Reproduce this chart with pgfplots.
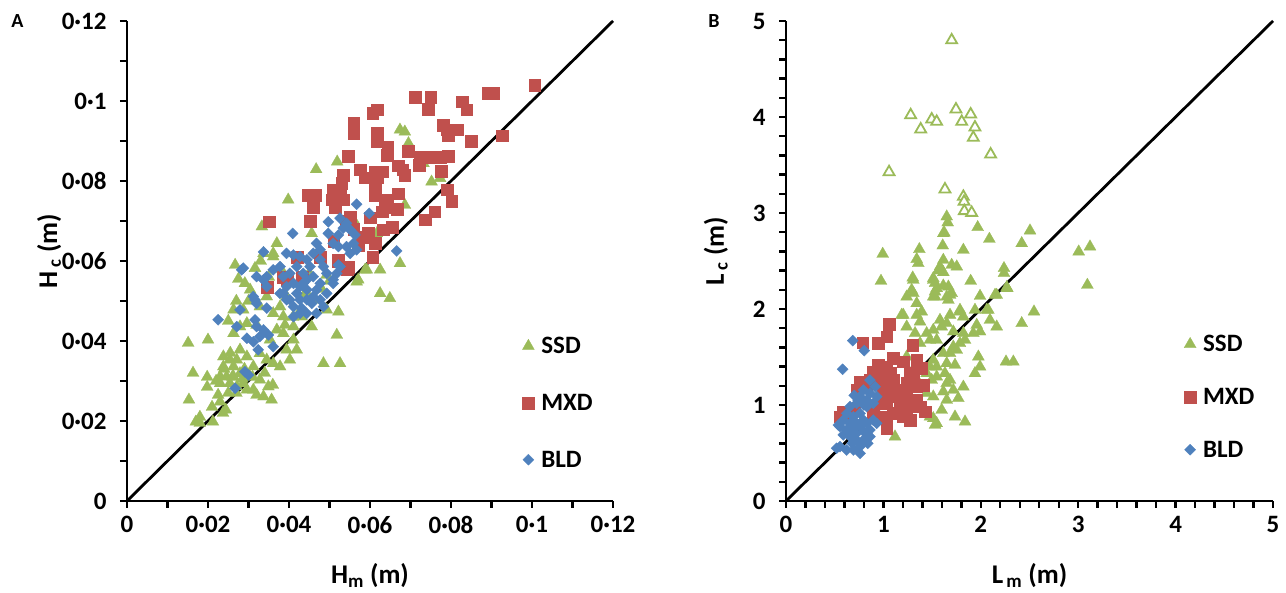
\documentclass[border=0pt]{standalone}
\usepackage{fontspec}
\setmainfont{Carlito}
\usepackage{pgfplots}
\pgfplotsset{compat=1.18}
\definecolor{sgreen}{RGB}{155,187,89}
\definecolor{mred}{RGB}{192,80,77}
\definecolor{bblue}{RGB}{79,129,189}
\pgfplotsset{
  panel/.style={
    scale only axis, width=486pt, height=480pt,
    axis lines=left, axis line style={-, line width=2.8pt},
    tick align=outside, major tick length=7pt, minor tick length=7pt,
    tick style={line width=2.4pt, black},
    ticklabel style={font=\bfseries\fontsize{25}{25}\selectfont},
    yticklabel style={xshift=-10pt},
    xticklabel style={yshift=-5pt},
    label style={font=\bfseries\fontsize{27}{27}\selectfont},
    clip=false,
    legend cell align=left,
    legend image code/.code={\draw[#1,only marks] plot coordinates {(0pt,0pt)};},
    legend style={draw=none, fill=none, anchor=north west, column sep=5pt,
      font=\bfseries\fontsize{25}{25}\selectfont},
  },
  ssd/.style={only marks, mark=triangle*, mark size=6.9pt, mark options={draw=sgreen, fill=sgreen, line width=0.3pt}},
  ssdh/.style={only marks, mark=triangle*, mark size=6.3pt, mark options={draw=sgreen, fill=white, line width=1.8pt}},
  mxd/.style={only marks, mark=square*, mark size=5.8pt, mark options={draw=mred, fill=mred, line width=0.3pt}},
  bld/.style={only marks, mark=square*, mark size=3.9pt, mark options={rotate=45, draw=bblue, fill=bblue, line width=0.3pt}},
}
\begin{document}
\begin{tikzpicture}
\useasboundingbox (0,0) rectangle (1286pt,593pt);
\node[font=\bfseries\fontsize{20}{20}\selectfont] at (17.5pt,571.5pt) {A};
\node[font=\bfseries\fontsize{20}{20}\selectfont] at (714pt,572pt) {B};
% ---------------- Panel A
\begin{axis}[panel, at={(127pt,92pt)}, anchor=south west,
  xmin=0, xmax=0.12, ymin=0, ymax=0.12,
  xtick={0,0.02,0.04,0.06,0.08,0.1,0.12},
  xticklabels={0,0·02,0·04,0·06,0·08,0·1,0·12},
  minor xtick={0.01,0.03,0.05,0.07,0.09,0.11},
  ytick={0,0.02,0.04,0.06,0.08,0.1,0.12},
  yticklabels={0,0·02,0·04,0·06,0·08,0·1,0·12},
  minor ytick={0.01,0.03,0.05,0.07,0.09,0.11},
  xlabel={H\textsubscript{m} (m)}, ylabel={H\,\textsubscript{c} (m)},
  xlabel style={at={(axis description cs:0.5,-0.155)}, anchor=center},
  ylabel style={at={(axis description cs:-0.16,0.52)}, anchor=center},
  legend style={at={(axis description cs:0.807,0.35)}, row sep=35pt},
]
\addplot[ssd] coordinates {
(0.0151,0.0395)(0.0200,0.0403)(0.0163,0.0320)(0.0153,0.0253)(0.0198,0.0310)(0.0198,0.0285)
(0.0180,0.0210)(0.0170,0.0198)(0.0180,0.0195)(0.0210,0.0235)(0.0212,0.0198)(0.0230,0.0248)
(0.0237,0.0220)(0.0244,0.0228)(0.0238,0.0361)(0.0254,0.0353)(0.0271,0.0353)(0.0238,0.0336)
(0.0263,0.0336)(0.0230,0.0311)(0.0246,0.0311)(0.0263,0.0311)(0.0279,0.0319)(0.0230,0.0294)
(0.0254,0.0294)(0.0271,0.0286)(0.0287,0.0294)(0.0296,0.0278)(0.0312,0.0278)(0.0320,0.0265)
(0.0337,0.0261)(0.0357,0.0253)(0.0349,0.0286)(0.0328,0.0303)(0.0304,0.0311)(0.0312,0.0336)
(0.0296,0.0361)(0.0279,0.0378)(0.0328,0.0369)(0.0345,0.0353)(0.0361,0.0344)(0.0378,0.0336)
(0.0394,0.0378)(0.0402,0.0353)(0.0419,0.0378)(0.0411,0.0403)(0.0386,0.0419)(0.0370,0.0428)
(0.0353,0.0403)(0.0337,0.0419)(0.0485,0.0344)(0.0526,0.0344)(0.0522,0.0473)(0.0518,0.0415)
(0.0456,0.0436)(0.0493,0.0478)(0.0567,0.0548)(0.0592,0.0578)(0.0411,0.0436)(0.0431,0.0461)
(0.0386,0.0461)(0.0378,0.0486)(0.0263,0.0419)(0.0279,0.0436)(0.0296,0.0444)(0.0263,0.0478)
(0.0287,0.0478)(0.0267,0.0590)(0.0291,0.0544)(0.0304,0.0528)(0.0316,0.0582)(0.0361,0.0611)
(0.0328,0.0486)(0.0345,0.0511)(0.0361,0.0469)(0.0444,0.0519)(0.0460,0.0503)(0.0477,0.0536)
(0.0493,0.0565)(0.0394,0.0511)(0.0467,0.0829)(0.0519,0.0848)(0.0398,0.0753)(0.0333,0.0686)
(0.0456,0.0669)(0.0370,0.0644)(0.0337,0.0619)(0.0361,0.0619)(0.0559,0.0703)(0.0571,0.0553)
(0.0674,0.0928)(0.0686,0.0923)(0.0695,0.0894)(0.0752,0.0798)(0.0773,0.0807)(0.0732,0.0844)
(0.0686,0.0740)(0.0674,0.0594)(0.0625,0.0578)(0.0625,0.0519)(0.0649,0.0507)(0.0617,0.0669)
(0.0588,0.0578)(0.0275,0.0555)(0.0300,0.0500)(0.0320,0.0440)(0.0270,0.0500)(0.0250,0.0450)
(0.0290,0.0330)(0.0260,0.0310)(0.0240,0.0330)(0.0220,0.0300)(0.0270,0.0270)(0.0310,0.0310)
(0.0340,0.0320)(0.0360,0.0290)(0.0390,0.0440)(0.0410,0.0460)(0.0430,0.0480)(0.0480,0.0530)
(0.0500,0.0550)(0.0530,0.0580)(0.0450,0.0570)(0.0440,0.0520)(0.0350,0.0560)(0.0380,0.0580)
(0.0330,0.0600)(0.0250,0.0270)(0.0285,0.0305)(0.0255,0.0370)(0.0225,0.0265)
};
\addlegendentry{SSD}
\addplot[mxd] coordinates {
(0.1007,0.1040)(0.0891,0.1020)(0.0904,0.1020)(0.0711,0.1010)(0.0750,0.1010)(0.0743,0.0980)
(0.0827,0.0998)(0.0839,0.0978)(0.0617,0.0978)(0.0607,0.0970)(0.0560,0.0945)(0.0560,0.0920)
(0.0617,0.0920)(0.0617,0.0900)(0.0780,0.0940)(0.0790,0.0928)(0.0815,0.0928)(0.0793,0.0915)
(0.0850,0.0900)(0.0926,0.0913)(0.0644,0.0885)(0.0642,0.0865)(0.0694,0.0875)(0.0546,0.0862)
(0.0723,0.0860)(0.0721,0.0840)(0.0748,0.0860)(0.0773,0.0860)(0.0793,0.0862)(0.0669,0.0838)
(0.0681,0.0828)(0.0686,0.0815)(0.0775,0.0825)(0.0575,0.0828)(0.0588,0.0808)(0.0612,0.0823)
(0.0630,0.0823)(0.0617,0.0808)(0.0533,0.0815)(0.0530,0.0795)(0.0509,0.0778)(0.0506,0.0753)
(0.0514,0.0735)(0.0526,0.0770)(0.0533,0.0753)(0.0612,0.0785)(0.0612,0.0765)(0.0642,0.0753)
(0.0637,0.0735)(0.0630,0.0723)(0.0669,0.0768)(0.0667,0.0730)(0.0447,0.0765)(0.0464,0.0765)
(0.0459,0.0735)(0.0452,0.0700)(0.0790,0.0778)(0.0802,0.0750)(0.0760,0.0723)(0.0736,0.0703)
(0.0551,0.0710)(0.0543,0.0695)(0.0595,0.0670)(0.0612,0.0645)(0.0654,0.0685)(0.0632,0.0678)
(0.0600,0.0708)(0.0607,0.0610)(0.0521,0.0603)(0.0546,0.0585)(0.0351,0.0698)(0.0346,0.0535)
(0.0385,0.0560)(0.0395,0.0553)(0.0432,0.0560)(0.0520,0.0598)(0.0543,0.0580)(0.0477,0.0610)
(0.0560,0.0680)(0.0580,0.0660)(0.0570,0.0640)(0.0510,0.0650)(0.0540,0.0700)(0.0420,0.0610)
};
\addlegendentry{MXD}
\addplot[bld] coordinates {
(0.0567,0.0742)(0.0598,0.0719)(0.0409,0.0669)(0.0337,0.0623)(0.0283,0.0578)(0.0497,0.0698)
(0.0526,0.0707)(0.0542,0.0694)(0.0534,0.0682)(0.0551,0.0678)(0.0563,0.0665)(0.0522,0.0665)
(0.0497,0.0669)(0.0509,0.0644)(0.0522,0.0636)(0.0542,0.0636)(0.0559,0.0644)(0.0567,0.0628)
(0.0551,0.0619)(0.0468,0.0644)(0.0477,0.0628)(0.0460,0.0619)(0.0394,0.0619)(0.0411,0.0615)
(0.0427,0.0611)(0.0444,0.0603)(0.0452,0.0586)(0.0477,0.0603)(0.0485,0.0586)(0.0493,0.0569)
(0.0509,0.0553)(0.0518,0.0569)(0.0526,0.0586)(0.0361,0.0578)(0.0378,0.0586)(0.0386,0.0561)
(0.0402,0.0569)(0.0419,0.0586)(0.0435,0.0569)(0.0444,0.0553)(0.0460,0.0561)(0.0477,0.0544)
(0.0468,0.0528)(0.0444,0.0528)(0.0427,0.0536)(0.0411,0.0544)(0.0394,0.0536)(0.0378,0.0519)
(0.0394,0.0503)(0.0411,0.0486)(0.0427,0.0503)(0.0444,0.0503)(0.0460,0.0511)(0.0493,0.0519)
(0.0485,0.0486)(0.0468,0.0469)(0.0444,0.0469)(0.0427,0.0469)(0.0411,0.0461)(0.0320,0.0561)
(0.0337,0.0553)(0.0345,0.0536)(0.0312,0.0511)(0.0320,0.0494)(0.0279,0.0478)(0.0345,0.0482)
(0.0225,0.0453)(0.0271,0.0436)(0.0316,0.0503)(0.0316,0.0453)(0.0320,0.0436)(0.0337,0.0428)
(0.0349,0.0415)(0.0328,0.0411)(0.0296,0.0407)(0.0312,0.0398)(0.0324,0.0378)(0.0361,0.0386)
(0.0291,0.0323)(0.0300,0.0315)(0.0267,0.0282)(0.0386,0.0519)(0.0402,0.0503)(0.0419,0.0519)
(0.0435,0.0544)(0.0431,0.0482)(0.0456,0.0494)(0.0477,0.0503)(0.0509,0.0544)(0.0287,0.0582)
(0.0345,0.0561)(0.0522,0.0590)(0.0666,0.0625)(0.0526,0.0586)
};
\addlegendentry{BLD}
\addplot[black, line width=2.8pt, forget plot] coordinates {(0,0) (0.12,0.12)};
\end{axis}
% ---------------- Panel B
\begin{axis}[panel, at={(786pt,92pt)}, anchor=south west, width=487pt,
  xmin=0, xmax=5, ymin=0, ymax=5,
  xtick={0,1,2,3,4,5}, xticklabels={0,1,2,3,4,5}, minor x tick num=4,
  ytick={0,1,2,3,4,5}, yticklabels={0,1,2,3,4,5}, minor y tick num=4,
  xlabel={L\textsubscript{\,m} (m)}, ylabel={L\,\textsubscript{c} (m)},
  xlabel style={at={(axis description cs:0.5,-0.155)}, anchor=center},
  ylabel style={at={(axis description cs:-0.144,0.52)}, anchor=center},
  legend style={at={(axis description cs:0.811,0.354)}, row sep=31pt},
]
\addplot[ssd] coordinates {
(1.650,2.962)(1.660,2.900)(1.968,2.851)(1.625,2.795)(2.505,2.816)(2.088,2.729)(2.420,2.684)
(1.609,2.660)(1.821,2.615)(1.369,2.622)(1.342,2.518)(1.358,2.476)(0.993,2.573)(0.975,2.292)
(1.701,2.458)(1.753,2.441)(1.564,2.400)(1.615,2.382)(1.512,2.320)(1.530,2.268)(1.301,2.326)
(2.238,2.424)(2.238,2.372)(1.896,2.292)(1.615,2.243)(1.307,2.164)(1.239,2.128)(1.530,2.180)
(1.530,2.128)(1.684,2.146)(1.667,2.094)(1.992,2.135)(2.163,2.146)(2.272,2.215)(3.094,2.250)
(3.005,2.597)(3.121,2.649)(1.342,2.059)(1.393,1.972)(1.188,1.938)(1.786,1.990)(2.061,1.990)
(2.546,1.972)(2.266,2.226)(2.146,2.146)(2.420,1.851)(2.259,1.451)(2.334,1.451)(2.094,1.885)
(2.163,1.816)(2.077,1.990)(1.940,1.990)(1.958,1.833)(1.923,1.747)(1.992,1.764)(1.975,1.503)
(1.992,1.399)(1.940,1.330)(1.838,1.677)(1.821,1.747)(1.786,1.643)(1.684,1.938)(1.650,1.851)
(1.718,1.764)(1.786,1.972)(1.821,1.920)(1.581,1.885)(1.598,1.816)(1.512,1.781)(1.547,1.677)
(1.444,1.747)(1.478,1.677)(1.376,1.868)(1.342,1.938)(1.718,1.607)(1.684,1.539)(1.753,1.573)
(1.615,1.539)(1.650,1.434)(1.512,1.469)(1.547,1.399)(1.735,1.417)(1.684,1.260)(1.632,1.330)
(1.615,1.139)(1.650,1.052)(1.769,1.070)(1.512,1.087)(1.512,0.861)(1.547,0.809)(1.735,0.878)
(1.838,0.826)(1.376,1.208)(1.444,1.122)(1.204,1.938)(1.290,2.198)(1.307,2.302)(1.512,2.302)
(1.547,2.215)(1.512,2.128)(1.581,2.441)(1.615,2.510)(1.667,2.232)(1.650,2.128)(1.701,2.164)
(1.615,2.788)(1.358,1.434)(1.325,1.365)(1.273,1.330)(1.239,1.503)(1.444,1.330)(1.496,1.260)
(1.821,1.190)(1.119,0.670)(1.239,1.816)(1.325,1.747)(1.376,1.643)(1.478,1.399)(1.547,1.295)
(1.650,1.226)(1.718,1.156)(1.598,0.948)(1.478,0.878)(1.530,0.792)
};
\addlegendentry{SSD}
\addplot[mxd] coordinates {
(1.061,1.844)(1.034,1.712)(0.948,1.643)(0.787,1.649)(1.301,1.625)(1.102,1.486)(1.204,1.451)
(0.948,1.417)(1.034,1.399)(1.342,1.469)(1.393,1.382)(0.896,1.347)(0.965,1.295)(1.068,1.330)
(1.102,1.260)(0.999,1.190)(0.931,1.226)(0.862,1.260)(0.760,1.243)(0.726,1.156)(1.273,1.330)
(1.307,1.260)(1.239,1.226)(1.342,1.190)(1.410,1.208)(1.170,1.156)(1.239,1.104)(1.102,1.087)
(1.034,1.052)(0.965,1.018)(1.170,1.018)(1.273,1.052)(1.342,1.052)(0.588,0.930)(0.554,0.878)
(0.896,0.913)(0.965,0.878)(1.034,0.843)(1.102,0.913)(1.170,0.948)(1.239,0.948)(1.307,0.982)
(1.376,0.982)(1.427,0.930)(1.034,0.757)(1.204,0.878)(1.273,0.843)(0.980,1.350)(1.000,1.100)
(1.100,1.150)(1.150,1.100)(1.200,1.050)(0.820,1.200)(0.700,0.950)(0.650,0.900)
};
\addlegendentry{MXD}
\addplot[bld] coordinates {
(0.685,1.670)(0.804,1.566)(0.582,1.372)(0.862,1.260)(0.914,1.190)(0.931,1.087)(0.862,1.122)
(0.794,1.156)(0.760,1.087)(0.726,1.018)(0.829,1.052)(0.896,1.018)(0.829,0.982)(0.657,0.982)
(0.623,0.913)(0.691,0.878)(0.760,0.913)(0.794,0.843)(0.726,0.809)(0.657,0.809)(0.588,0.843)
(0.554,0.774)(0.623,0.740)(0.691,0.740)(0.760,0.774)(0.829,0.809)(0.896,0.843)(0.931,0.809)
(0.588,0.688)(0.657,0.670)(0.726,0.635)(0.794,0.635)(0.862,0.670)(0.760,0.566)(0.691,0.531)
(0.623,0.531)(0.554,0.566)(0.520,0.549)(0.829,0.705)(0.862,0.740)(0.760,0.497)(0.537,0.792)
(0.700,1.100)(0.740,1.050)(0.800,1.000)(0.720,0.700)(0.800,0.720)(0.680,0.600)(0.840,0.600)
};
\addlegendentry{BLD}
\addplot[ssdh, forget plot] coordinates {
(1.701,4.800)(1.280,4.020)(1.496,3.976)(1.547,3.951)(1.383,3.872)(1.745,4.080)(1.896,4.028)
(1.804,3.951)(1.940,3.892)(1.923,3.785)(2.101,3.611)(1.058,3.427)(1.632,3.247)(1.821,3.170)
(1.828,3.118)(1.831,3.021)(1.906,3.003)
};
\addplot[black, line width=2.8pt, forget plot] coordinates {(0,0) (5,5)};
\end{axis}
\end{tikzpicture}
\end{document}
